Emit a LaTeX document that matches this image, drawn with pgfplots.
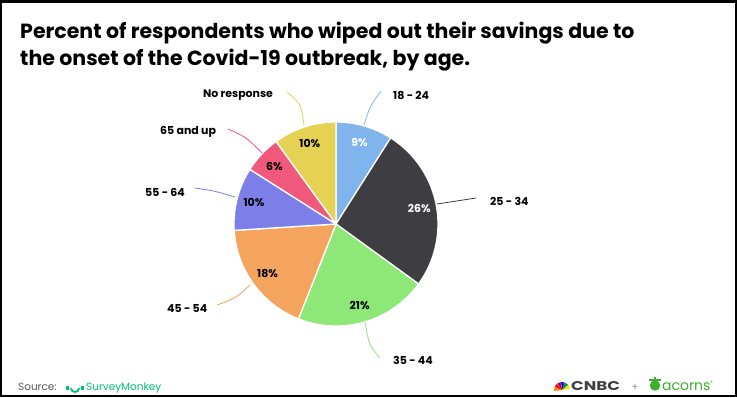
\documentclass[border=0pt]{standalone}
\usepackage{pgfplots}
\pgfplotsset{compat=1.18}
\usepackage{fontspec}
\setmainfont{Poppins}
\definecolor{c1}{HTML}{7FB5EC}
\definecolor{c2}{HTML}{3E3D42}
\definecolor{c3}{HTML}{8DE878}
\definecolor{c4}{HTML}{F5A45D}
\definecolor{c5}{HTML}{7D7FE8}
\definecolor{c6}{HTML}{F0587C}
\definecolor{c7}{HTML}{E5D152}
\definecolor{smgreen}{HTML}{00BF6F}
\definecolor{acgreen}{HTML}{3DAE2B}
% start (cumulative %), value (%), colour
\newcommand\slice[3]{\addplot[fill=#3, draw=white, line width=1.3pt, line join=round,
  domain={90-3.6*(#1+#2)}:{90-3.6*(#1)}, samples=90, variable=\t]
  ({cos(\t)},{sin(\t)}) -- (axis cs:0,0) -- cycle;}
\newcommand\plab[3]{\node[font=\bfseries\fontsize{11}{13}\selectfont, text=#3, inner sep=0]
  at (axis cs:{0.83*cos(90-3.6*(#1+#2/2))},{0.83*sin(90-3.6*(#1+#2/2))}) {#2\%};}
\begin{document}
\begin{tikzpicture}
\begin{scope}[x=1bp,y=-1bp,yshift=397bp]
\useasboundingbox (0,0) rectangle (737,397);
\fill[white] (0,0) rectangle (737,397);
\fill[black] (0,0) rectangle (737,3.5);
\fill[black] (0,0) rectangle (1.5,397);
\fill[black] (735,0) rectangle (737,397);
\fill[black] (0,395) rectangle (737,397);
\node[anchor=base west, inner sep=0, font=\bfseries\fontsize{20.6}{24}\selectfont] at (20,38)
  {Percent of respondents who wiped out their savings due to};
\node[anchor=base west, inner sep=0, font=\bfseries\fontsize{20.6}{24}\selectfont] at (20,65)
  {the onset of the Covid-19 outbreak, by age.};
\end{scope}

\begin{axis}[at={(336bp,173bp)}, anchor=center, scale only axis, width=204bp, height=204bp,
  xmin=-1, xmax=1, ymin=-1, ymax=1, hide axis, clip=false]
\slice{0}{9}{c1}
\slice{9}{26}{c2}
\slice{35}{21}{c3}
\slice{56}{18}{c4}
\slice{74}{10}{c5}
\slice{84}{6}{c6}
\slice{90}{10}{c7}
\plab{0}{9}{white}
\plab{9}{26}{white}
\plab{35}{21}{black}
\plab{56}{18}{black}
\plab{74}{10}{black}
\plab{84}{6}{black}
\plab{90}{10}{black}
\end{axis}

\begin{scope}[x=1bp,y=-1bp,yshift=397bp]
\tikzset{lbl/.style={anchor=west, inner sep=0, font=\bfseries\fontsize{11}{13}\selectfont}}
\draw[c1, line width=0.8pt] (364,125) .. controls (370,106) .. (381,91);
\draw[c2, line width=0.8pt] (437,204) -- (476,198);
\draw[c3, line width=0.8pt] (365,322) .. controls (369,345) .. (380,358);
\draw[c4, line width=0.8pt] (250,285) .. controls (236,298) .. (217,305);
\draw[c5, line width=0.8pt] (195,188) .. controls (215,191) .. (235,197);
\draw[c6, line width=0.8pt] (228,129) .. controls (246,137) .. (262,153);
\draw[c7, line width=0.8pt] (287,92) .. controls (301,104) .. (304,125);
\node[lbl] at (393,95) {18 - 24};
\node[lbl] at (490,201) {25 - 34};
\node[lbl] at (393,360) {35 - 44};
\node[lbl] at (167,308) {45 - 54};
\node[lbl] at (145,192) {55 - 64};
\node[lbl] at (160,132) {65 and up};
\node[lbl] at (203,95) {No response};
% footer
\node[anchor=base west, inner sep=0, font=\fontsize{10.5}{12}\selectfont, text=black!65] at (18,390) {Source:};
\fill[smgreen] (66,390) rectangle (69,386);
\fill[smgreen] (70,388) arc (180:0:5) -- (78,388) arc (0:180:3) -- cycle;
\fill[smgreen] (81,390) rectangle (84,386);
\node[anchor=base west, inner sep=0, font=\fontsize{10.5}{12}\selectfont, text=smgreen] at (86,390) {SurveyMonkey};
\foreach \a/\c in {200/orange,230/red,260/purple,290/blue,320/green!60!black,350/yellow!80!orange}
  \fill[\c] (562,390) -- ++(\a:8) arc (\a:\a-26:8) -- cycle;
\node[anchor=base west, inner sep=0, text=black!75] at (571,390) {\resizebox{49bp}{9bp}{\bfseries CNBC}};
\node[anchor=base, inner sep=0, font=\fontsize{10}{12}\selectfont, text=black!45] at (635,390) {+};
\fill[acgreen] (655,385.5) circle (5.2);
\fill[acgreen] (649,381) rectangle (661,379);
\fill[acgreen] (654.2,379) rectangle (655.8,376.5);
\node[anchor=base west, inner sep=0, font=\fontsize{14}{16}\selectfont, text=acgreen] at (662,390) {acorns\textsuperscript{\tiny\textregistered}};
\end{scope}
\end{tikzpicture}
\end{document}
